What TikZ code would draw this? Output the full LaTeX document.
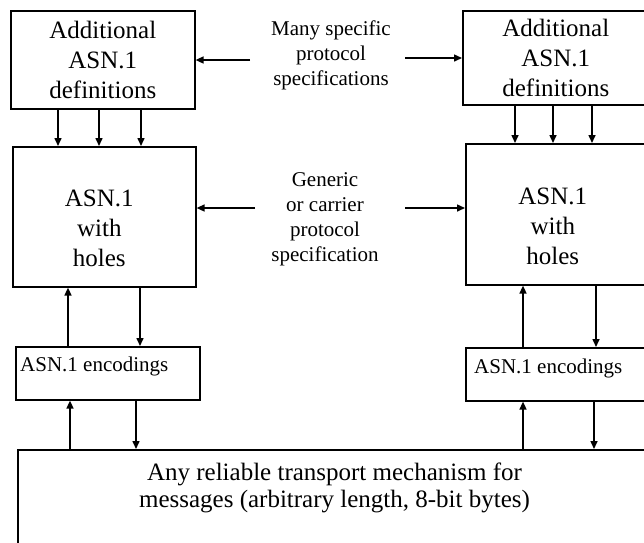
\documentclass[tikz,border=0pt]{standalone}
\usepackage{fontspec}
\setmainfont{Liberation Serif}
\usetikzlibrary{arrows.meta}
\newcommand\bigf{\fontsize{25}{30}\selectfont}
\newcommand\labf{\fontsize{21}{25}\selectfont}
\newcommand\encf{\fontsize{21}{25}\selectfont}
\begin{document}
\begin{tikzpicture}[x=1pt,y=-1pt,
  box/.style={draw, line width=1.6pt, inner sep=0pt, anchor=north west, align=center, font=\bigf},
  bigtxt/.style={inner sep=0pt, align=center, font=\bigf},
  labtxt/.style={inner sep=0pt, align=center, font=\labf},
  enctxt/.style={inner sep=0pt, anchor=west, font=\encf},
  arr/.style={line width=1.5pt, -{Triangle[length=8pt,width=7pt]}}]
\useasboundingbox (0,0) rectangle (644,542);
\clip (0,0) rectangle (644,542);

% left column
\node[box, minimum width=184pt, minimum height=98pt] (ltop) at (10,10) {Additional\\ASN.1\\definitions};
\node[box, minimum width=183pt, minimum height=140pt] (lmid) at (12,146) {};
\node[bigtxt] (lmidt) at ([xshift=-5pt,yshift=-12pt]lmid.center) {ASN.1\\with\\holes};
\node[box, minimum width=184pt, minimum height=53pt] (lenc) at (15,346) {};
\node[enctxt] (lenct) at ([xshift=5pt,yshift=6.5pt]lenc.west) {ASN.1 encodings};

% right column
\node[box, minimum width=186pt, minimum height=94pt] (rtop) at (462,10) {Additional\\ASN.1\\definitions};
\node[box, minimum width=186pt, minimum height=141pt] (rmid) at (465,143) {};
\node[bigtxt] (rmidt) at ([xshift=-6pt,yshift=-12.5pt]rmid.center) {ASN.1\\with\\holes};
\node[box, minimum width=186pt, minimum height=53pt] (renc) at (465,347) {};
\node[enctxt] (renct) at ([xshift=9pt,yshift=5.5pt]renc.west) {ASN.1 encodings};

% bottom
\node[box, minimum width=660pt, minimum height=130pt] (bot) at (17,449) {};
\node[bigtxt, font=\fontsize{25}{27}\selectfont] (bott) at ([xshift=317.5pt,yshift=-38.5pt]bot.north west) {Any reliable transport mechanism for\\messages (arbitrary length, 8-bit bytes)};

% labels
\node[labtxt] (lab1) at (331,55) {Many specific\\protocol\\specifications};
\node[labtxt] (lab2) at (325,219.5) {Generic\\or carrier\\protocol\\specification};

\coordinate (a1) at ([xshift=-81pt,yshift=-5pt]lab1.center);
\coordinate (a2) at ([xshift=74pt,yshift=-3pt]lab1.center);
\coordinate (a3) at ([xshift=-70pt,yshift=11.5pt]lab2.center);
\coordinate (a4) at ([xshift=80pt,yshift=11.5pt]lab2.center);
\draw[arr] (a1) -- (a1 -| ltop.east);
\draw[arr] (a2) -- (a2 -| rtop.west);
\draw[arr] (a3) -- (a3 -| lmid.east);
\draw[arr] (a4) -- (a4 -| rmid.west);

% top -> mid arrows
\foreach \dx [count=\i] in {48,89,131} {
  \coordinate (lt\i) at ([xshift=\dx pt]ltop.south west);
  \draw[arr] (lt\i) -- (lt\i |- lmid.north);
}
\foreach \dx [count=\i] in {53,91,130} {
  \coordinate (rt\i) at ([xshift=\dx pt]rtop.south west);
  \draw[arr] (rt\i) -- (rt\i |- rmid.north);
}

% left mid <-> enc <-> bottom
\coordinate (le1) at ([xshift=53pt]lenc.north west);
\draw[arr] (le1) -- (le1 |- lmid.south);
\coordinate (lm1) at ([xshift=128pt]lmid.south west);
\draw[arr] (lm1) -- (lm1 |- lenc.north);
\coordinate (lb1) at ([xshift=53pt]bot.north west);
\draw[arr] (lb1) -- (lb1 |- lenc.south);
\coordinate (le2) at ([xshift=121pt]lenc.south west);
\draw[arr] (le2) -- (le2 |- bot.north);

% right mid <-> enc <-> bottom
\coordinate (re1) at ([xshift=58pt]renc.north west);
\draw[arr] (re1) -- (re1 |- rmid.south);
\coordinate (rm1) at ([xshift=131pt]rmid.south west);
\draw[arr] (rm1) -- (rm1 |- renc.north);
\coordinate (rb1) at ([xshift=506pt]bot.north west);
\draw[arr] (rb1) -- (rb1 |- renc.south);
\coordinate (re2) at ([xshift=129pt]renc.south west);
\draw[arr] (re2) -- (re2 |- bot.north);
\end{tikzpicture}
\end{document}
